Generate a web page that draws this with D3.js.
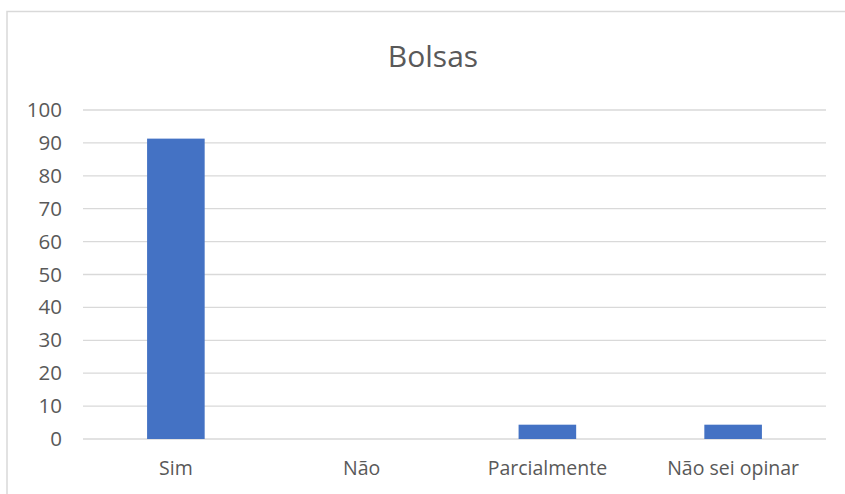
<!DOCTYPE html>
<html>
<head>
<meta charset="utf-8">
<script src="https://cdn.jsdelivr.net/npm/d3@7"></script>
<style>
  body { margin: 0; background: white; }
  svg { display: block; }
</style>
</head>
<body>
<div id="chart"></div>
<script>
// data
var categories = ['Sim', 'Não', 'Parcialmente', 'Não sei opinar'];
var values = [91.3, 0, 4.35, 4.35];
var y_ticks = [0, 10, 20, 30, 40, 50, 60, 70, 80, 90, 100];
var title = 'Bolsas';

var width = 845, height = 494;
var plot_left = 83, plot_right = 826, plot_top = 110, plot_bottom = 439;
var font = "'Open Sans', 'Noto Sans', sans-serif";
var text_col = '#595959';

var svg = d3.select('#chart').append('svg')
    .attr('width', width).attr('height', height);

// outer chart border
svg.append('rect')
    .attr('x', 7).attr('y', 11.5)
    .attr('width', 860).attr('height', 520)
    .attr('fill', 'none')
    .attr('stroke', '#d9d9d9').attr('stroke-width', 1.5);

// scales
var x = d3.scaleBand().domain(categories).range([plot_left, plot_right])
    .paddingInner(0.69).paddingOuter(0.345);
var y = d3.scaleLinear().domain([0, 100]).range([plot_bottom, plot_top]);

// gridlines
svg.append('g').selectAll('line')
    .data(y_ticks).enter().append('line')
    .attr('x1', plot_left).attr('x2', plot_right)
    .attr('y1', function(d) { return y(d); })
    .attr('y2', function(d) { return y(d); })
    .attr('stroke', '#d9d9d9').attr('stroke-width', 1.3);

// y axis labels
var y_axis = svg.append('g')
    .attr('transform', 'translate(' + (plot_left - 21) + ',0)')
    .call(d3.axisLeft(y).tickValues(y_ticks).tickSize(0).tickPadding(0));
y_axis.select('.domain').remove();
y_axis.selectAll('text')
    .attr('fill', text_col)
    .attr('font-family', font)
    .attr('font-size', '20.5px');

// bars
svg.append('g').selectAll('rect')
    .data(values).enter().append('rect')
    .attr('x', function(d, i) { return x(categories[i]); })
    .attr('width', x.bandwidth())
    .attr('y', function(d) { return y(d); })
    .attr('height', function(d) { return plot_bottom - y(d); })
    .attr('fill', '#4472c4');

// x axis labels
var x_axis = svg.append('g')
    .attr('transform', 'translate(0,' + (plot_bottom + 22) + ')')
    .call(d3.axisBottom(x).tickSize(0).tickPadding(0));
x_axis.select('.domain').remove();
x_axis.selectAll('text')
    .attr('fill', text_col)
    .attr('font-family', font)
    .attr('font-size', '19.5px');

// title
svg.append('text')
    .attr('x', 433).attr('y', 67)
    .attr('text-anchor', 'middle')
    .attr('fill', text_col)
    .attr('font-family', font)
    .attr('font-size', '30px')
    .text(title);
</script>
</body>
</html>
